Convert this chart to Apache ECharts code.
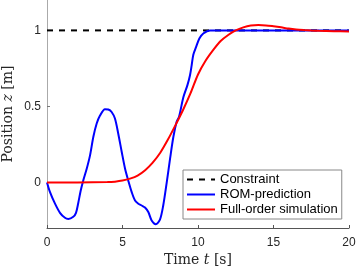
<!DOCTYPE html>
<html>
<head>
<meta charset="utf-8">
<script src="https://cdn.jsdelivr.net/npm/echarts@6/dist/echarts.min.js"></script>
<style>html,body{margin:0;padding:0;background:#fff}#c{width:357px;height:270px}</style>
</head>
<body>
<div id="c"></div>
<script>
var seriesNames = ['Constraint', 'ROM-prediction', 'Full-order simulation'];
var xTicks = [0, 5, 10, 15, 20];
var yTicks = [0, 0.5, 1];

var constraintT = [0, 20];
var constraintY = [1, 1];

var romT = [0, 0.2, 0.53, 0.86, 1.19, 1.41, 1.74, 1.92, 2.07, 2.23, 2.4, 2.63, 2.85, 3.07, 3.29, 3.51, 3.84, 4.06, 4.28, 4.5, 4.72, 4.95, 5.17, 5.38, 5.61, 5.83, 6.05, 6.27, 6.49, 6.71, 6.93, 7.2, 7.48, 7.7, 7.93, 8.15, 8.37, 8.59, 8.74, 9.03, 9.3, 9.47, 9.58, 9.69, 9.87, 10.09, 10.35, 10.8, 12, 14, 16, 18, 20];
var romY = [0, -0.064, -0.14, -0.2, -0.233, -0.24, -0.226, -0.2, -0.135, -0.055, 0.013, 0.09, 0.178, 0.3, 0.387, 0.44, 0.482, 0.48, 0.463, 0.42, 0.32, 0.2, 0.09, 0.013, -0.064, -0.119, -0.14, -0.152, -0.165, -0.195, -0.25, -0.275, -0.245, -0.15, 0.0, 0.156, 0.3, 0.4, 0.43, 0.56, 0.64, 0.705, 0.77, 0.84, 0.89, 0.947, 0.98, 1.0, 1.0, 1.0, 1.0, 1.0, 1.0];

var fullT = [0, 2, 4, 4.5, 5, 5.5, 6, 6.5, 7, 7.5, 8, 8.5, 9, 9.5, 10, 10.5, 11, 11.5, 12, 12.5, 13, 13.5, 14, 14.5, 15, 15.5, 16, 16.5, 17, 17.5, 18, 19, 20];
var fullY = [0, 0, 0.002, 0.005, 0.012, 0.025, 0.045, 0.08, 0.13, 0.195, 0.28, 0.375, 0.475, 0.585, 0.71, 0.8, 0.87, 0.93, 0.97, 1.0, 1.02, 1.032, 1.035, 1.033, 1.027, 1.02, 1.012, 1.006, 1.002, 0.999, 0.997, 0.995, 0.993];

function pairs(t, y) { return t.map(function (v, i) { return [v, y[i]]; }); }

var chart = echarts.init(document.getElementById('c'), null, { renderer: 'canvas' });
chart.setOption({
  animation: false,
  backgroundColor: '#fff',
  grid: { left: 47, right: 8, top: 0, bottom: 42, containLabel: false, outerBoundsMode: 'none' },
  xAxis: {
    type: 'value', min: 0, max: 20, interval: 5,
    axisLine: { show: true, onZero: false, lineStyle: { color: '#555', width: 1 } },
    axisTick: { show: true, inside: true, length: 3, lineStyle: { color: '#555' } },
    axisLabel: { margin: 9, fontSize: 12, fontFamily: 'Liberation Sans', color: '#262626',
      formatter: function (v) { return xTicks.indexOf(v) >= 0 ? String(v) : ''; } },
    splitLine: { show: false },
    name: 'Time {i|t} [s]', nameLocation: 'middle', nameGap: 25, nameMoveOverlap: false,
    nameTextStyle: { fontSize: 14, fontFamily: 'DejaVu Serif', color: '#262626',
      rich: { i: { fontStyle: 'italic', fontSize: 14, fontFamily: 'DejaVu Serif', color: '#262626' } } }
  },
  yAxis: {
    type: 'value', min: -0.3, max: 1.2,
    axisLine: { show: true, onZero: false, lineStyle: { color: '#aaa', width: 1 } },
    axisTick: { show: true, inside: true, length: 3, customValues: yTicks, lineStyle: { color: '#777' } },
    axisLabel: { margin: 6, fontSize: 12, fontFamily: 'Liberation Sans', color: '#262626', customValues: yTicks },
    splitLine: { show: false },
    name: 'Position {i|z} [m]', nameLocation: 'middle', nameGap: 32, nameMoveOverlap: false,
    nameTextStyle: { fontSize: 14, fontFamily: 'DejaVu Serif', color: '#262626',
      rich: { i: { fontStyle: 'italic', fontSize: 14, fontFamily: 'DejaVu Serif', color: '#262626' } } }
  },
  legend: {
    orient: 'vertical', left: 183, top: 170,
    padding: [3, 4, 3, 3], itemGap: 2, itemWidth: 28, itemHeight: 14,
    backgroundColor: '#fff', borderColor: '#888', borderWidth: 1,
    itemStyle: { opacity: 0 },
    textStyle: { fontSize: 13, fontFamily: 'Liberation Sans', color: '#000' },
    data: seriesNames
  },
  series: [
    { name: seriesNames[0], type: 'line', data: pairs(constraintT, constraintY), symbol: 'none',
      lineStyle: { color: '#000', width: 2, type: [6, 6] }, itemStyle: { color: '#000' }, z: 1 },
    { name: seriesNames[1], type: 'line', data: pairs(romT, romY), symbol: 'none', smooth: 0.3,
      lineStyle: { color: '#0000ff', width: 2 }, itemStyle: { color: '#0000ff' }, z: 2 },
    { name: seriesNames[2], type: 'line', data: pairs(fullT, fullY), symbol: 'none', smooth: 0.3,
      lineStyle: { color: '#ff0000', width: 2 }, itemStyle: { color: '#ff0000' }, z: 3 }
  ]
});
</script>
</body>
</html>
